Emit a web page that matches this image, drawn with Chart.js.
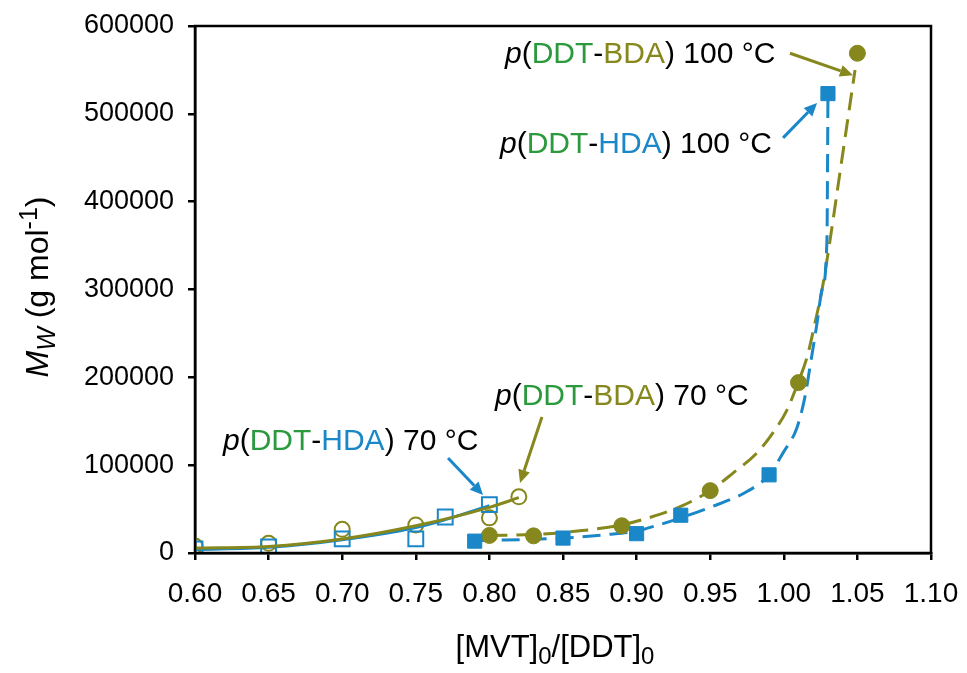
<!DOCTYPE html>
<html>
<head>
<meta charset="utf-8">
<script src="https://cdn.jsdelivr.net/npm/chart.js@4.4.1/dist/chart.umd.min.js"></script>
<style>
html, body { margin: 0; padding: 0; background: #fff; }
</style>
</head>
<body>
<canvas id="canvas1" width="967" height="673"></canvas>
<script>
// Graduations des axes
const xTickVals = [0.60, 0.65, 0.70, 0.75, 0.80, 0.85, 0.90, 0.95, 1.00, 1.05, 1.10];
const yTickVals = [0, 100000, 200000, 300000, 400000, 500000, 600000];

// Points mesurés
// p(DDT-HDA) 70 °C (carrés vides)
const hda70X = [0.60, 0.65, 0.70, 0.75, 0.77, 0.80];
const hda70Y = [4500, 7000, 16000, 16000, 41000, 55000];
// p(DDT-BDA) 70 °C (cercles vides)
const bda70X = [0.60, 0.65, 0.70, 0.75, 0.80, 0.82];
const bda70Y = [8000, 11000, 27000, 32000, 40000, 64000];
// p(DDT-HDA) 100 °C (carrés pleins)
const hda100X = [0.79, 0.85, 0.90, 0.93, 0.99, 1.03];
const hda100Y = [13500, 17000, 22000, 43000, 89000, 523000];
// p(DDT-BDA) 100 °C (cercles pleins)
const bda100X = [0.80, 0.83, 0.89, 0.95, 1.01, 1.05];
const bda100Y = [20000, 19500, 31000, 71000, 194000, 569000];

// Courbes de tendance
const hda70FitX = [0.60, 0.65, 0.70, 0.75, 0.77, 0.80];
const hda70FitY = [4000, 6500, 15000, 29000, 38000, 54000];
const bda70FitX = [0.60, 0.65, 0.70, 0.75, 0.80, 0.82];
const bda70FitY = [5700, 7500, 16000, 31000, 52000, 63000];
const hda100FitX = [0.79, 0.85, 0.88, 0.90, 0.915, 0.93, 0.95, 0.975, 0.99, 0.9995, 1.009, 1.0144, 1.0178, 1.0226, 1.026, 1.0293, 1.03];
const hda100FitY = [14000, 17000, 21000, 25000, 32000, 40000, 52000, 70000, 89000, 114000, 143000, 178000, 212000, 262000, 300000, 356000, 520000];
const bda100FitX = [0.80, 0.83, 0.86, 0.89, 0.91, 0.93, 0.95, 0.9655, 0.9818, 0.9927, 1.0022, 1.0097, 1.0158, 1.0212, 1.026, 1.0314, 1.037, 1.0484];
const bda100FitY = [20000, 21000, 25000, 32000, 41000, 53000, 71000, 91000, 114000, 137000, 163000, 194000, 223000, 262000, 300000, 356000, 420000, 550000];

// Couleurs
const blue = '#1a87c8';
const olive = '#86871c';
const green = '#2b9a3c';
const font = '"Liberation Sans", Arial, sans-serif';

// Étiquettes + flèches (en unités des axes)
const labels = [
    { x: 0.8106, y: 558000, poly: 'BDA', temp: '100 °C', ax: [1.0042, 569000, 1.047, 544000], color: olive },
    { x: 0.8072, y: 455000, poly: 'HDA', temp: '100 °C', ax: [0.9995, 472600, 1.0226, 512400], color: blue },
    { x: 0.619, y: 117300, poly: 'HDA', temp: '70 °C', ax: [0.7719, 108200, 0.7957, 66000], color: blue },
    { x: 0.8038, y: 168500, poly: 'BDA', temp: '70 °C', ax: [0.8357, 154900, 0.8208, 79700], color: olive }
];

function toXY(xs, ys) {
    return xs.map((v, i) => ({ x: v, y: ys[i] }));
}

function drawParts(ctx, x, y, parts) {
    parts.forEach(p => {
        ctx.font = (p.i ? 'italic ' : '') + p.s + 'px ' + font;
        ctx.fillStyle = p.c;
        ctx.fillText(p.t, x, y + (p.dy || 0));
        x += ctx.measureText(p.t).width;
    });
}

function partsWidth(ctx, parts) {
    let w = 0;
    parts.forEach(p => {
        ctx.font = (p.i ? 'italic ' : '') + p.s + 'px ' + font;
        w += ctx.measureText(p.t).width;
    });
    return w;
}

function arrow(ctx, x1, y1, x2, y2, color) {
    const a = Math.atan2(y2 - y1, x2 - x1);
    const len = 13, hw = 6;
    const bx = x2 - len * Math.cos(a), by = y2 - len * Math.sin(a);
    ctx.strokeStyle = color;
    ctx.fillStyle = color;
    ctx.lineWidth = 3;
    ctx.beginPath();
    ctx.moveTo(x1, y1);
    ctx.lineTo(bx, by);
    ctx.stroke();
    ctx.beginPath();
    ctx.moveTo(x2, y2);
    ctx.lineTo(bx + hw * Math.sin(a), by - hw * Math.cos(a));
    ctx.lineTo(bx - hw * Math.sin(a), by + hw * Math.cos(a));
    ctx.closePath();
    ctx.fill();
}

// Cadre, titres des axes et annotations
const extras = {
    id: 'extras',
    afterDraw(chart) {
        const ctx = chart.ctx;
        const a = chart.chartArea;
        const sx = chart.scales.x, sy = chart.scales.y;
        ctx.save();
        ctx.strokeStyle = '#000';
        ctx.lineWidth = 2.5;
        ctx.strokeRect(a.left, a.top, a.right - a.left, a.bottom - a.top);

        ctx.textBaseline = 'alphabetic';
        labels.forEach(l => {
            drawParts(ctx, sx.getPixelForValue(l.x), sy.getPixelForValue(l.y), [
                { t: 'p', i: true, c: '#000', s: 30 },
                { t: '(', c: '#000', s: 30 },
                { t: 'DDT', c: green, s: 30 },
                { t: '-', c: '#000', s: 30 },
                { t: l.poly, c: l.poly === 'BDA' ? olive : blue, s: 30 },
                { t: ') ' + l.temp, c: '#000', s: 30 }
            ]);
            arrow(ctx, sx.getPixelForValue(l.ax[0]), sy.getPixelForValue(l.ax[1]),
                sx.getPixelForValue(l.ax[2]), sy.getPixelForValue(l.ax[3]), l.color);
        });

        // titre axe x
        const xt = [
            { t: '[MVT]', c: '#000', s: 31 },
            { t: '0', c: '#000', s: 24, dy: 7 },
            { t: '/[DDT]', c: '#000', s: 31 },
            { t: '0', c: '#000', s: 24, dy: 7 }
        ];
        drawParts(ctx, 555 - partsWidth(ctx, xt) / 2, 657, xt);

        // titre axe y
        const yt = [
            { t: 'M', i: true, c: '#000', s: 32 },
            { t: 'W', i: true, c: '#000', s: 25, dy: 7 },
            { t: ' (g mol', c: '#000', s: 32 },
            { t: '-1', c: '#000', s: 25, dy: -11 },
            { t: ')', c: '#000', s: 32 }
        ];
        ctx.translate(48, 287);
        ctx.rotate(-Math.PI / 2);
        drawParts(ctx, -partsWidth(ctx, yt) / 2, 0, yt);
        ctx.restore();
    }
};

const config = {
    type: 'scatter',
    data: {
        datasets: [
            { data: toXY(hda100X, hda100Y), pointStyle: 'rect', pointRadius: 10, backgroundColor: blue, borderColor: blue, borderWidth: 1, order: 0 },
            { data: toXY(bda100X, bda100Y), pointStyle: 'circle', pointRadius: 8, backgroundColor: olive, borderColor: olive, borderWidth: 1, order: 0 },
            { data: toXY(hda70X, hda70Y), pointStyle: 'rect', pointRadius: 10.5, backgroundColor: 'rgba(255,255,255,0)', borderColor: blue, borderWidth: 2, order: 1 },
            { data: toXY(bda70X, bda70Y), pointStyle: 'circle', pointRadius: 7.5, backgroundColor: 'rgba(255,255,255,0)', borderColor: olive, borderWidth: 2, order: 1 },
            { data: toXY(hda100FitX, hda100FitY), showLine: true, pointRadius: 0, borderColor: blue, borderWidth: 3, borderDash: [18, 9], cubicInterpolationMode: 'monotone', order: 2 },
            { data: toXY(bda100FitX, bda100FitY), showLine: true, pointRadius: 0, borderColor: olive, borderWidth: 3, borderDash: [18, 9], cubicInterpolationMode: 'monotone', order: 2 },
            { data: toXY(hda70FitX, hda70FitY), showLine: true, pointRadius: 0, borderColor: blue, borderWidth: 3, cubicInterpolationMode: 'monotone', order: 0 },
            { data: toXY(bda70FitX, bda70FitY), showLine: true, pointRadius: 0, borderColor: olive, borderWidth: 3, cubicInterpolationMode: 'monotone', order: -1 }
        ]
    },
    options: {
        responsive: false,
        animation: false,
        layout: { padding: { left: 0, right: 36, top: 26, bottom: 0 } },
        plugins: { legend: { display: false }, tooltip: { enabled: false } },
        scales: {
            x: {
                type: 'linear',
                min: 0.6,
                max: 1.1,
                afterBuildTicks: s => { s.ticks = xTickVals.map(v => ({ value: v })); },
                afterFit: s => { s.height = 120; s.paddingLeft = 0; s.paddingRight = 0; },
                grid: { drawOnChartArea: false, drawTicks: true, tickLength: 7, color: '#000', lineWidth: 2.5 },
                border: { color: '#000', width: 2.5 },
                ticks: { color: '#000', padding: 17, font: { size: 28, family: font }, callback: v => v.toFixed(2) }
            },
            y: {
                type: 'linear',
                min: 0,
                max: 600000,
                afterBuildTicks: s => { s.ticks = yTickVals.map(v => ({ value: v })); },
                afterFit: s => { s.width = 195; s.paddingTop = 0; s.paddingBottom = 0; },
                grid: { drawOnChartArea: false, drawTicks: true, tickLength: 7, color: '#000', lineWidth: 2.5 },
                border: { color: '#000', width: 2.5 },
                ticks: { color: '#000', padding: 14, font: { size: 27, family: font }, callback: v => String(v) }
            }
        }
    },
    plugins: [extras]
};

const chartOne = new Chart(document.getElementById('canvas1'), config);
</script>
</body>
</html>
